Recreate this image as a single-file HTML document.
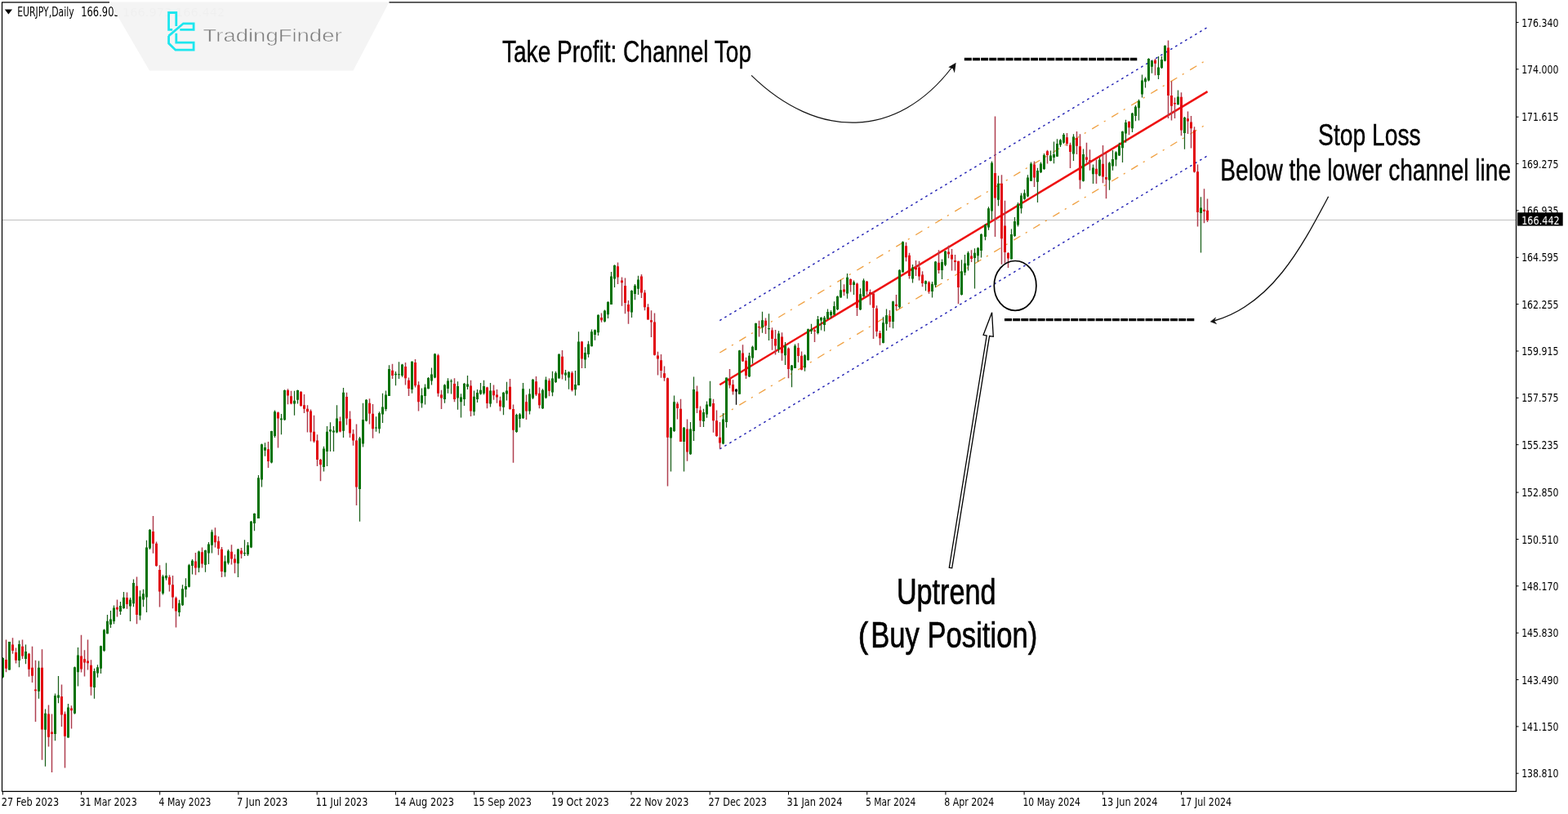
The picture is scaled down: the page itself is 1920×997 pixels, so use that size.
<!DOCTYPE html><html><head><meta charset="utf-8"><title>EURJPY Daily</title><style>html,body{margin:0;padding:0;background:#fff;overflow:hidden}svg{display:block}</style></head><body>
<svg width="1920" height="997" viewBox="0 0 1920 997">
<rect width="1920" height="997" fill="#fff"/>
<line x1="3" y1="269.5" x2="1856" y2="269.5" stroke="#c0c0c0" stroke-width="1"/>
<line x1="881.3" y1="392.6" x2="1478.6" y2="33.4" stroke="#2222b4" stroke-width="1.45" stroke-dasharray="2.7 4.3" stroke-linecap="butt"/>
<line x1="881.3" y1="550.0" x2="1478.6" y2="190.8" stroke="#2222b4" stroke-width="1.45" stroke-dasharray="2.7 4.3" stroke-linecap="butt"/>
<line x1="881.3" y1="432.0" x2="1478.6" y2="72.8" stroke="#f0a040" stroke-width="1.3" stroke-dasharray="9.5 7.5 2.2 8.8" stroke-linecap="butt"/>
<line x1="881.3" y1="510.6" x2="1478.6" y2="151.4" stroke="#f0a040" stroke-width="1.3" stroke-dasharray="9.5 7.5 2.2 8.8" stroke-linecap="butt"/>
<line x1="881.3" y1="471.3" x2="1478.6" y2="112.1" stroke="#ee1111" stroke-width="2.5" stroke-linecap="butt"/>
<path d="M3.5 805.2V830.5M11.5 785.9V820.6M23.5 784.4V817.3M31.5 789.5V813.3M47.5 809.4V855.8M55.5 868.4V938.8M67.5 849.4V907.2M71.5 828.1V861.2M83.5 862.1V903.6M91.5 816.6V874.7M95.5 793.1V840.4M115.5 818.8V855.7M119.5 814.3V829.7M123.5 790.7V824.9M127.5 770.6V798.2M131.5 753.0V776.2M135.5 748.1V769.0M139.5 741.4V764.2M147.5 736.9V753.0M151.5 724.9V745.7M159.5 732.1V761.0M163.5 709.6V743.3M171.5 723.3V759.4M175.5 721.7V743.3M179.5 661.8V750.1M183.5 648.1V673.0M199.5 704.0V728.4M203.5 689.5V710.7M219.5 734.8V754.9M223.5 716.3V742.0M227.5 708.3V731.6M231.5 690.7V719.6M235.5 685.1V703.5M243.5 674.6V701.1M251.5 673.4V700.8M255.5 664.0V690.9M259.5 648.8V677.6M275.5 680.4V706.4M279.5 673.0V691.6M291.5 672.0V707.1M299.5 661.2V681.1M303.5 664.0V681.1M307.5 637.9V671.3M311.5 628.4V650.2M316.5 582.1V635.0M320.5 543.5V596.4M324.5 542.2V558.7M332.5 527.8V567.5M336.5 502.5V535.9M344.5 507.0V532.3M348.5 477.2V515.1M360.5 478.7V508.8M364.5 477.6V494.4M396.5 546.7V577.4M400.5 522.0V571.1M404.5 517.3V553.0M408.5 522.0V553.0M412.5 496.2V530.5M420.5 475.1V535.9M440.5 535.0V638.8M444.5 493.8V547.6M448.5 489.0V516.3M460.5 510.2V528.8M464.5 504.3V530.7M468.5 481.8V517.9M472.5 478.6V503.5M476.5 447.3V485.0M484.5 455.0V472.2M488.5 443.3V464.1M492.5 445.7V461.7M504.5 442.5V481.8M516.5 475.4V499.4M520.5 470.6V495.4M524.5 462.0V476.2M528.5 450.5V471.4M532.5 432.8V463.3M544.5 470.6V493.8M548.5 463.3V481.8M552.5 464.6V482.6M560.5 467.3V501.8M564.5 482.3V511.5M568.5 468.9V497.0M572.5 460.1V477.0M580.5 478.6V509.1M584.5 477.0V493.0M588.5 468.9V483.4M592.5 465.7V483.4M600.5 468.9V498.6M616.5 480.2V508.3M620.5 467.8V490.6M632.5 506.7V529.9M636.5 505.9V523.5M640.5 468.9V513.1M648.5 476.2V507.5M652.5 464.1V489.0M664.5 476.2V501.0M668.5 461.5V488.2M676.5 454.8V485.3M680.5 454.8V469.1M684.5 432.9V463.4M692.5 452.9V466.3M696.5 454.8V476.8M704.5 453.9V484.4M708.5 406.2V472.0M716.5 425.3V451.0M720.5 417.7V437.7M724.5 403.4V424.3M728.5 403.4V416.7M732.5 385.3V411.0M740.5 379.6V394.8M744.5 369.1V390.0M748.5 332.9V372.9M752.5 324.3V351.9M773.5 355.3V389.0M777.5 348.1V367.3M781.5 337.7V360.9M821.5 522.9V577.5M825.5 484.6V528.9M837.5 522.9V577.5M845.5 517.0V557.0M849.5 461.5V540.0M861.5 500.8V522.9M865.5 491.4V511.8M869.5 466.7V498.2M885.5 505.9V544.2M889.5 462.4V523.8M905.5 428.7V482.8M917.5 431.9V461.9M921.5 423.5V445.6M925.5 395.4V428.7M933.5 381.7V407.8M941.5 384.3V416.9M953.5 405.2V431.9M961.5 418.9V446.9M969.5 446.9V474.3M973.5 421.5V450.8M985.5 433.9V454.8M989.5 402.6V441.7M993.5 396.7V409.1M1001.5 386.9V409.4M1005.5 388.3V404.4M1009.5 386.9V405.8M1013.5 378.5V391.1M1017.5 379.9V389.7M1021.5 369.3V386.2M1025.5 362.3V379.9M1029.5 342.7V364.4M1037.5 334.9V365.8M1045.5 343.4V360.9M1053.5 353.2V379.9M1057.5 341.3V363.7M1081.5 388.3V420.6M1085.5 378.5V405.1M1093.5 368.6V402.3M1101.5 330.0V377.8M1105.5 295.6V333.5M1117.5 323.9V346.4M1133.5 343.6V356.2M1141.5 345.0V364.6M1145.5 319.7V352.0M1153.5 317.6V342.1M1157.5 307.0V326.0M1177.5 318.3V361.8M1181.5 312.0V337.2M1185.5 307.7V331.6M1193.5 304.2V353.4M1197.5 302.7V320.6M1201.5 285.9V315.4M1206.5 274.3V294.3M1210.5 253.2V281.7M1214.5 197.4V269.0M1222.5 215.3V252.2M1238.5 280.6V317.5M1242.5 265.9V290.1M1246.5 248.0V277.4M1250.5 236.4V261.6M1254.5 232.2V244.8M1258.5 214.3V241.6M1262.5 198.5V221.6M1270.5 205.8V248.0M1274.5 198.5V212.1M1278.5 187.9V207.9M1286.5 184.5V197.6M1290.5 173.5V200.2M1294.5 170.2V191.7M1298.5 170.2V180.0M1302.5 163.0V176.1M1314.5 164.3V196.9M1326.5 182.6V222.4M1338.5 201.5V225.0M1346.5 193.0V215.8M1358.5 198.2V232.8M1362.5 183.9V208.7M1366.5 185.2V203.5M1370.5 174.8V191.1M1374.5 160.4V198.9M1378.5 146.7V174.8M1386.5 137.9V162.0M1390.5 129.1V148.3M1394.5 121.8V147.5M1398.5 91.4V119.4M1402.5 94.6V107.4M1406.5 71.3V99.4M1410.5 73.7V89.7M1418.5 68.9V97.0M1422.5 68.9V84.1M1426.5 55.2V75.3M1442.5 110.6V128.3M1450.5 143.0V182.7M1470.5 241.2V309.6" stroke="#1a601a" stroke-width="1.25" fill="none"/>
<path d="M7.5 783.5V823.3M15.5 781.2V800.7M19.5 793.5V812.4M27.5 783.5V807.0M35.5 799.8V828.7M39.5 791.7V835.9M43.5 808.8V884.1M51.5 795.3V930.7M59.5 863.5V914.4M63.5 874.4V946.0M75.5 838.6V890.1M79.5 871.5V940.6M87.5 864.2V892.4M99.5 777.8V823.6M103.5 796.3V828.4M107.5 783.5V820.4M111.5 808.3V851.7M143.5 734.5V755.4M155.5 725.4V745.7M167.5 706.4V764.2M187.5 632.1V677.8M191.5 663.4V693.9M195.5 692.3V743.6M207.5 704.3V724.4M211.5 705.1V745.2M215.5 730.8V768.5M239.5 677.0V704.3M247.5 670.6V695.5M263.5 646.3V670.6M267.5 657.0V679.7M271.5 669.9V707.1M283.5 667.3V691.6M287.5 679.0V702.2M295.5 671.0V683.9M328.5 541.0V573.1M340.5 504.3V548.5M352.5 476.3V495.3M356.5 478.7V495.3M368.5 479.0V498.0M372.5 483.0V506.1M376.5 496.2V529.6M380.5 501.6V540.4M384.5 508.8V542.2M388.5 532.3V571.1M392.5 562.1V589.2M416.5 510.6V529.6M424.5 480.8V520.6M428.5 503.4V535.9M432.5 526.0V545.8M436.5 519.6V618.9M452.5 488.2V519.5M456.5 495.1V536.8M480.5 445.7V464.1M496.5 444.1V471.4M500.5 462.5V485.0M508.5 440.1V474.6M512.5 467.3V503.5M536.5 433.6V485.8M540.5 477.8V501.0M556.5 463.3V492.2M576.5 465.7V509.9M596.5 473.8V500.2M604.5 471.4V489.8M608.5 477.0V493.8M612.5 485.8V503.5M624.5 464.1V501.8M628.5 495.4V566.8M644.5 483.4V513.9M656.5 460.9V485.0M660.5 474.6V500.2M672.5 463.4V485.3M688.5 429.1V464.4M700.5 454.8V479.6M712.5 417.7V451.0M736.5 383.4V394.8M756.5 321.4V348.1M761.5 339.5V374.8M765.5 340.5V384.3M769.5 368.1V396.7M785.5 336.0V364.9M789.5 355.3V380.2M793.5 372.2V391.4M797.5 380.2V413.1M801.5 383.4V435.5M805.5 430.7V459.6M809.5 433.9V462.8M813.5 448.4V466.8M817.5 462.4V595.4M829.5 492.2V513.6M833.5 488.8V540.8M841.5 513.6V564.7M853.5 472.6V505.9M857.5 497.4V522.9M873.5 488.8V529.7M877.5 502.5V534.9M881.5 517.0V549.4M893.5 452.1V475.6M897.5 465.2V483.4M909.5 422.2V443.0M913.5 437.8V463.9M929.5 392.8V412.4M937.5 389.6V409.1M945.5 401.3V428.7M949.5 403.9V434.5M957.5 407.2V441.7M965.5 425.4V463.2M977.5 420.2V443.7M981.5 430.6V453.5M997.5 402.6V418.9M1033.5 348.3V362.3M1041.5 341.3V357.4M1049.5 346.2V386.9M1061.5 344.1V360.9M1065.5 354.6V373.6M1069.5 357.4V415.0M1073.5 374.3V412.2M1077.5 405.1V422.7M1089.5 379.9V400.9M1097.5 360.9V379.9M1109.5 296.7V320.2M1113.5 309.8V341.4M1121.5 319.0V337.9M1125.5 319.7V343.6M1129.5 332.3V351.3M1137.5 344.3V359.7M1149.5 306.3V335.1M1161.5 300.7V316.2M1165.5 304.9V331.6M1169.5 312.0V331.6M1173.5 319.7V372.3M1189.5 306.3V321.1M1218.5 142.6V290.1M1226.5 214.3V323.8M1230.5 245.8V322.7M1234.5 309.0V328.0M1266.5 197.4V229.0M1282.5 183.7V200.6M1306.5 163.0V178.7M1310.5 174.8V206.1M1318.5 161.1V189.1M1322.5 164.3V231.5M1330.5 174.8V199.5M1334.5 183.2V208.7M1342.5 195.6V225.0M1350.5 178.0V224.3M1354.5 187.8V243.2M1382.5 148.3V165.2M1414.5 72.1V92.2M1430.5 49.6V145.1M1434.5 99.4V147.5M1438.5 119.4V145.1M1446.5 113.2V166.2M1454.5 136.4V164.0M1458.5 141.9V181.6M1462.5 155.2V211.4M1466.5 201.5V277.6M1474.5 231.3V273.2M1478.5 243.4V272.1" stroke="#b04050" stroke-width="1.5" fill="none"/>
<path d="M901.5 476.3V495.8" stroke="#000" stroke-width="1.25" fill="none"/>
<path d="M2 806.1h3v23.5h-3zM10 785.9h3v34.7h-3zM22 789.0h3v19.9h-3zM30 798.0h3v9.0h-3zM46 817.8h3v28.9h-3zM54 873.8h3v19.9h-3zM66 852.1h3v46.9h-3zM70 851.6h3v3.2h-3zM82 866.6h3v37.0h-3zM90 817.3h3v56.5h-3zM94 802.5h3v20.8h-3zM114 822.0h3v20.1h-3zM118 817.2h3v7.2h-3zM122 791.2h3v27.6h-3zM126 771.4h3v25.7h-3zM130 760.7h3v15.6h-3zM134 758.6h3v6.4h-3zM138 744.6h3v16.4h-3zM146 742.0h3v6.9h-3zM150 731.8h3v13.2h-3zM158 734.5h3v8.0h-3zM162 714.1h3v25.2h-3zM170 730.5h3v23.3h-3zM174 727.3h3v7.2h-3zM178 670.6h3v61.0h-3zM182 648.9h3v22.5h-3zM198 705.9h3v20.9h-3zM202 705.1h3v3.2h-3zM218 738.8h3v11.2h-3zM222 721.2h3v20.1h-3zM226 718.0h3v4.0h-3zM230 692.3h3v26.5h-3zM234 686.7h3v6.4h-3zM242 675.4h3v20.1h-3zM250 674.1h3v17.6h-3zM254 666.4h3v11.2h-3zM258 651.6h3v16.1h-3zM274 687.4h3v13.3h-3zM278 674.8h3v14.7h-3zM290 672.7h3v17.6h-3zM298 676.9h3v1.4h-3zM302 667.8h3v11.2h-3zM306 638.7h3v31.9h-3zM310 629.1h3v11.9h-3zM315 585.3h3v49.7h-3zM319 544.3h3v43.3h-3zM323 547.9h3v3.9h-3zM331 528.1h3v38.5h-3zM335 504.3h3v29.8h-3zM343 512.4h3v1.8h-3zM347 478.1h3v36.1h-3zM359 490.8h3v3.6h-3zM363 478.1h3v11.7h-3zM395 549.4h3v22.6h-3zM399 528.7h3v24.4h-3zM403 526.3h3v2.3h-3zM407 527.4h3v2.2h-3zM411 512.4h3v17.2h-3zM419 480.8h3v46.9h-3zM439 536.8h3v62.3h-3zM443 513.9h3v29.7h-3zM447 489.8h3v25.7h-3zM459 523.5h3v1.1h-3zM463 505.9h3v19.3h-3zM467 498.6h3v8.8h-3zM471 483.4h3v17.7h-3zM475 452.1h3v32.9h-3zM483 457.7h3v1.6h-3zM487 458.2h3v1.1h-3zM491 446.5h3v13.6h-3zM503 442.8h3v34.2h-3zM515 484.2h3v9.6h-3zM519 474.6h3v10.4h-3zM523 463.0h3v13.2h-3zM527 458.5h3v8.0h-3zM531 433.6h3v28.9h-3zM543 471.4h3v17.7h-3zM547 466.5h3v9.6h-3zM551 466.5h3v1.0h-3zM559 473.0h3v14.4h-3zM563 486.6h3v5.6h-3zM567 470.1h3v18.9h-3zM571 470.6h3v3.2h-3zM579 485.8h3v18.5h-3zM583 481.0h3v8.0h-3zM587 477.8h3v4.8h-3zM591 473.0h3v8.8h-3zM599 478.6h3v16.0h-3zM615 480.7h3v18.0h-3zM619 478.6h3v4.0h-3zM631 507.9h3v21.2h-3zM635 507.5h3v5.6h-3zM639 476.2h3v36.1h-3zM647 482.6h3v20.9h-3zM651 464.9h3v22.5h-3zM663 477.8h3v22.5h-3zM667 465.3h3v21.9h-3zM675 463.4h3v17.2h-3zM679 456.7h3v11.4h-3zM683 433.9h3v29.5h-3zM691 456.4h3v3.2h-3zM695 455.8h3v6.7h-3zM703 471.0h3v6.3h-3zM707 418.6h3v53.4h-3zM715 432.0h3v8.6h-3zM719 421.5h3v12.4h-3zM723 406.2h3v18.1h-3zM727 404.3h3v5.7h-3zM731 385.7h3v21.5h-3zM739 380.5h3v13.3h-3zM743 370.0h3v15.2h-3zM747 338.6h3v34.3h-3zM751 324.9h3v16.6h-3zM772 356.1h3v26.5h-3zM776 349.7h3v10.4h-3zM780 342.5h3v11.2h-3zM820 523.8h3v12.8h-3zM824 492.2h3v35.8h-3zM836 523.8h3v17.1h-3zM844 525.5h3v30.7h-3zM848 476.9h3v51.2h-3zM860 505.0h3v11.1h-3zM864 495.6h3v11.9h-3zM868 488.0h3v9.4h-3zM884 513.6h3v29.8h-3zM888 462.4h3v54.6h-3zM904 429.3h3v53.5h-3zM916 435.8h3v25.4h-3zM920 424.8h3v13.7h-3zM924 396.1h3v32.6h-3zM932 392.2h3v9.1h-3zM940 401.9h3v1.3h-3zM952 408.5h3v19.6h-3zM960 423.5h3v11.7h-3zM968 447.6h3v5.9h-3zM972 423.5h3v27.4h-3zM984 435.2h3v15.0h-3zM988 403.2h3v37.8h-3zM992 403.2h3v2.6h-3zM1000 391.1h3v16.9h-3zM1004 389.0h3v3.5h-3zM1008 389.0h3v9.1h-3zM1012 382.0h3v9.1h-3zM1016 382.0h3v4.2h-3zM1020 375.0h3v10.5h-3zM1024 363.0h3v16.1h-3zM1028 355.3h3v9.1h-3zM1036 339.8h3v19.7h-3zM1044 345.5h3v3.5h-3zM1052 360.2h3v19.0h-3zM1056 343.4h3v19.7h-3zM1080 395.3h3v24.6h-3zM1084 386.2h3v10.5h-3zM1092 369.3h3v24.6h-3zM1100 330.7h3v45.6h-3zM1104 296.3h3v37.2h-3zM1116 327.4h3v14.0h-3zM1132 344.3h3v3.5h-3zM1140 347.8h3v9.1h-3zM1144 320.4h3v28.8h-3zM1152 321.1h3v9.8h-3zM1156 307.7h3v16.9h-3zM1176 332.3h3v28.8h-3zM1180 322.5h3v11.2h-3zM1184 309.8h3v15.4h-3zM1192 309.8h3v6.3h-3zM1196 303.8h3v9.5h-3zM1200 286.9h3v20.0h-3zM1205 275.3h3v14.7h-3zM1209 255.3h3v23.2h-3zM1213 199.5h3v59.0h-3zM1221 224.8h3v20.0h-3zM1237 286.9h3v30.5h-3zM1241 271.1h3v17.9h-3zM1245 250.1h3v25.3h-3zM1249 239.5h3v15.8h-3zM1253 236.4h3v7.4h-3zM1257 217.4h3v23.2h-3zM1261 200.6h3v21.1h-3zM1269 209.0h3v13.7h-3zM1273 200.6h3v10.5h-3zM1277 190.0h3v16.9h-3zM1285 190.4h3v6.5h-3zM1289 189.1h3v3.9h-3zM1293 176.1h3v15.6h-3zM1297 171.5h3v5.9h-3zM1301 165.0h3v9.8h-3zM1313 167.6h3v20.9h-3zM1325 189.1h3v32.6h-3zM1337 205.4h3v7.8h-3zM1345 195.6h3v19.6h-3zM1357 199.5h3v20.9h-3zM1361 195.0h3v8.5h-3zM1365 186.5h3v9.1h-3zM1369 178.7h3v11.7h-3zM1373 161.1h3v20.2h-3zM1377 149.9h3v13.6h-3zM1385 138.7h3v18.5h-3zM1389 130.7h3v11.2h-3zM1393 123.5h3v8.8h-3zM1397 98.6h3v16.9h-3zM1401 96.2h3v4.0h-3zM1405 72.1h3v26.5h-3zM1409 74.5h3v7.2h-3zM1417 82.5h3v9.6h-3zM1421 72.9h3v10.4h-3zM1425 56.0h3v18.5h-3zM1441 118.6h3v9.6h-3zM1449 144.1h3v18.8h-3zM1469 254.5h3v6.6h-3z" fill="#047204"/>
<path d="M6 807.9h3v10.8h-3zM14 789.5h3v7.6h-3zM18 798.9h3v9.9h-3zM26 791.7h3v11.7h-3zM34 800.7h3v19.0h-3zM38 817.8h3v9.9h-3zM42 844.4h3v1.8h-3zM50 817.8h3v75.8h-3zM58 874.4h3v28.3h-3zM62 896.4h3v2.7h-3zM74 853.0h3v22.6h-3zM78 874.4h3v27.4h-3zM86 867.5h3v2.7h-3zM98 803.5h3v16.0h-3zM102 807.2h3v4.3h-3zM106 809.6h3v2.7h-3zM110 814.7h3v26.5h-3zM142 743.7h3v2.9h-3zM154 732.1h3v8.0h-3zM166 717.7h3v35.3h-3zM186 651.0h3v14.8h-3zM190 665.8h3v27.3h-3zM194 697.9h3v26.5h-3zM206 706.7h3v9.6h-3zM210 716.3h3v15.2h-3zM214 732.4h3v16.0h-3zM238 687.5h3v8.0h-3zM246 676.2h3v14.4h-3zM262 655.8h3v8.4h-3zM266 662.8h3v9.1h-3zM270 672.7h3v27.4h-3zM282 675.8h3v8.8h-3zM286 684.6h3v4.9h-3zM294 674.4h3v4.2h-3zM327 550.2h3v14.9h-3zM339 505.2h3v7.2h-3zM351 478.1h3v6.3h-3zM355 485.3h3v9.0h-3zM367 479.9h3v17.2h-3zM371 496.2h3v4.5h-3zM375 500.7h3v3.6h-3zM379 503.4h3v26.2h-3zM383 528.7h3v11.7h-3zM387 539.5h3v23.5h-3zM391 563.0h3v6.3h-3zM415 516.0h3v12.6h-3zM423 485.9h3v26.5h-3zM427 513.3h3v17.2h-3zM431 531.4h3v8.1h-3zM435 539.5h3v56.9h-3zM451 493.8h3v12.8h-3zM455 506.7h3v18.5h-3zM479 453.7h3v6.4h-3zM495 448.9h3v14.4h-3zM499 465.7h3v10.4h-3zM507 444.1h3v28.1h-3zM511 471.4h3v20.9h-3zM535 435.2h3v46.5h-3zM539 483.4h3v4.0h-3zM555 470.1h3v18.9h-3zM575 472.6h3v30.8h-3zM595 474.6h3v19.3h-3zM603 478.6h3v5.6h-3zM607 483.4h3v3.2h-3zM611 490.6h3v7.2h-3zM623 473.8h3v27.3h-3zM627 501.0h3v25.7h-3zM643 492.2h3v11.2h-3zM655 467.3h3v16.0h-3zM659 481.8h3v14.4h-3zM671 466.3h3v12.4h-3zM687 436.7h3v21.9h-3zM699 456.7h3v21.0h-3zM711 418.6h3v21.0h-3zM735 389.1h3v3.2h-3zM755 326.2h3v13.3h-3zM760 343.4h3v2.9h-3zM764 350.0h3v21.0h-3zM768 372.9h3v8.6h-3zM784 338.5h3v20.1h-3zM788 358.5h3v17.7h-3zM792 376.2h3v15.2h-3zM796 392.2h3v2.4h-3zM800 394.6h3v40.1h-3zM804 435.5h3v4.0h-3zM808 441.2h3v12.8h-3zM812 457.2h3v5.6h-3zM816 463.2h3v72.5h-3zM828 494.5h3v5.5h-3zM832 500.8h3v40.1h-3zM840 525.5h3v28.1h-3zM852 479.4h3v20.5h-3zM856 502.5h3v12.8h-3zM872 493.9h3v21.3h-3zM876 515.3h3v18.8h-3zM880 535.7h3v6.8h-3zM892 463.9h3v7.8h-3zM896 471.1h3v8.5h-3zM908 432.6h3v9.8h-3zM912 441.7h3v18.3h-3zM928 400.0h3v1.3h-3zM936 392.8h3v5.9h-3zM944 404.6h3v10.4h-3zM948 415.0h3v8.5h-3zM956 412.4h3v20.2h-3zM964 426.7h3v25.4h-3zM976 426.1h3v9.8h-3zM980 435.8h3v17.0h-3zM996 404.6h3v1.3h-3zM1032 354.6h3v2.8h-3zM1040 342.0h3v7.0h-3zM1048 347.6h3v29.5h-3zM1060 344.8h3v11.9h-3zM1064 358.1h3v2.1h-3zM1068 359.5h3v17.6h-3zM1072 377.8h3v28.1h-3zM1076 408.0h3v6.3h-3zM1088 386.9h3v7.0h-3zM1096 372.8h3v2.1h-3zM1108 301.2h3v14.0h-3zM1112 312.7h3v25.3h-3zM1120 327.4h3v2.8h-3zM1124 327.4h3v11.2h-3zM1128 336.5h3v10.5h-3zM1136 345.7h3v11.2h-3zM1148 321.8h3v9.1h-3zM1160 308.4h3v2.8h-3zM1164 312.0h3v5.6h-3zM1168 319.0h3v2.1h-3zM1172 319.7h3v32.3h-3zM1188 313.4h3v3.5h-3zM1217 212.1h3v30.5h-3zM1225 224.8h3v67.4h-3zM1229 276.4h3v32.6h-3zM1233 310.1h3v6.3h-3zM1265 201.6h3v15.8h-3zM1281 185.2h3v4.8h-3zM1305 168.2h3v7.8h-3zM1309 177.4h3v8.5h-3zM1317 168.9h3v9.8h-3zM1321 179.3h3v41.1h-3zM1329 192.4h3v3.3h-3zM1333 196.3h3v2.0h-3zM1341 206.7h3v6.5h-3zM1349 200.8h3v15.6h-3zM1353 217.1h3v2.6h-3zM1381 149.1h3v7.2h-3zM1413 73.7h3v4.0h-3zM1429 58.5h3v58.6h-3zM1433 117.0h3v12.8h-3zM1437 125.9h3v1.6h-3zM1445 118.8h3v40.8h-3zM1453 145.2h3v3.3h-3zM1457 149.6h3v7.7h-3zM1461 159.6h3v50.8h-3zM1465 210.3h3v49.6h-3zM1473 256.7h3v2.2h-3zM1477 257.8h3v12.1h-3z" fill="#e2060e"/>
<path d="M900 476.7h3v2.9h-3z" fill="#000"/>
<line x1="1180.8" y1="72.5" x2="1392.3" y2="72.5" stroke="#000" stroke-width="3.4" stroke-dasharray="9 1.15"/>
<line x1="1230" y1="391.6" x2="1462.8" y2="391.6" stroke="#000" stroke-width="3.2" stroke-dasharray="9 1.15"/>
<path d="M920.1 92.4C1001 171.4 1098.4 170.8 1166 82" fill="none" stroke="#111" stroke-width="1.2"/>
<path d="M1170.6 76.8L1168.9 89.6L1166.6 83.9L1161.3 82.3Z" fill="#111"/>
<path d="M1626.6 240.8C1593.6 303.1 1557.3 372.8 1486.5 393" fill="none" stroke="#111" stroke-width="1.3"/>
<path d="M1482.2 394L1488.6 388.9L1486.8 393.1L1489.6 396.7Z" fill="#111" stroke="#111" stroke-width="0.5" stroke-linejoin="round"/>
<ellipse cx="1243.1" cy="349.9" rx="25.8" ry="30.4" fill="none" stroke="#000" stroke-width="1.7"/>
<path d="M1214.6 382.8L1216.3 412.3L1211.6 411.6L1165.7 695.8L1162.3 695.2L1208.2 411L1204.1 410.3Z" fill="#fff" stroke="#000" stroke-width="1.3" stroke-linejoin="miter"/>
<text stroke="#000" stroke-width="0.45" x="615.0" y="75.9" font-family="Liberation Sans, Arial, sans-serif" font-size="36" textLength="305.03" lengthAdjust="spacingAndGlyphs" fill="#000">Take Profit: Channel Top</text>
<text stroke="#000" stroke-width="0.45" x="1614.07" y="177.8" font-family="Liberation Sans, Arial, sans-serif" font-size="36" textLength="125.6" lengthAdjust="spacingAndGlyphs" fill="#000">Stop Loss</text>
<text stroke="#000" stroke-width="0.45" x="1494.34" y="220.8" font-family="Liberation Sans, Arial, sans-serif" font-size="36" textLength="355.66" lengthAdjust="spacingAndGlyphs" fill="#000">Below the lower channel line</text>
<text stroke="#000" stroke-width="0.7" x="1097.9" y="739.5" font-family="Liberation Sans, Arial, sans-serif" font-size="44.5" textLength="121.59" lengthAdjust="spacingAndGlyphs" fill="#000">Uptrend</text>
<text stroke="#000" stroke-width="0.7" x="1050.71" y="792.9" font-family="Liberation Sans, Arial, sans-serif" font-size="44.5" textLength="12.55" lengthAdjust="spacingAndGlyphs" fill="#000">(</text>
<text stroke="#000" stroke-width="0.7" x="1066.27" y="792.9" font-family="Liberation Sans, Arial, sans-serif" font-size="44.5" textLength="203.93" lengthAdjust="spacingAndGlyphs" fill="#000">Buy Position)</text>
<path d="M5.8 11.5H15L10.4 17.6Z" fill="#000"/>
<text x="21.17" y="19.8" font-family="DejaVu Sans, Liberation Sans, sans-serif" font-size="15.0" textLength="69.56" lengthAdjust="spacingAndGlyphs" fill="#000">EURJPY,Daily</text>
<text x="99.23" y="19.8" font-family="DejaVu Sans, Liberation Sans, sans-serif" font-size="15.0" textLength="47.56" lengthAdjust="spacingAndGlyphs" fill="#000">166.905</text>
<path d="M134 2.5H476.5L432.5 86.5H183Z" fill="#f4f4f4"/>
<text x="150" y="19.8" font-family="DejaVu Sans, sans-serif" font-size="14.6" fill="#000" fill-opacity="0.018">166.973 166.442</text>
<g fill="none" stroke="#1de6ee" stroke-width="2.8" stroke-linejoin="miter"><path d="M215.8 32.1V15.5H206.6V36.3H211.2"/><path d="M206.4 44.1L224.5 28.8H237.1V36.3H220.3"/><path d="M215.8 40.8V52.2H237.1V61.2H214.9L206.6 53.1V44.1"/></g>
<text stroke="#f4f4f4" stroke-width="0.5" x="248.5" y="50.6" font-family="Liberation Sans, Arial, sans-serif" font-size="22.5" textLength="170.09" lengthAdjust="spacingAndGlyphs" fill="#7e7e7e">TradingFinder</text>
<path d="M2.5 969.4V2.9H134M476.5 2.9H1856.5V969.4H2.5" fill="none" stroke="#000" stroke-width="1.2"/>
<line x1="1856.5" y1="27.4" x2="1859.5" y2="27.4" stroke="#000" stroke-width="1"/>
<text x="1863.14" y="32.5" font-family="DejaVu Sans, Liberation Sans, sans-serif" font-size="14.4" textLength="45.36" lengthAdjust="spacingAndGlyphs" fill="#000">176.340</text>
<line x1="1856.5" y1="84.8" x2="1859.5" y2="84.8" stroke="#000" stroke-width="1"/>
<text x="1863.14" y="89.85" font-family="DejaVu Sans, Liberation Sans, sans-serif" font-size="14.4" textLength="45.36" lengthAdjust="spacingAndGlyphs" fill="#000">174.000</text>
<line x1="1856.5" y1="143.2" x2="1859.5" y2="143.2" stroke="#000" stroke-width="1"/>
<text x="1863.14" y="148.3" font-family="DejaVu Sans, Liberation Sans, sans-serif" font-size="14.4" textLength="45.36" lengthAdjust="spacingAndGlyphs" fill="#000">171.615</text>
<line x1="1856.5" y1="200.6" x2="1859.5" y2="200.6" stroke="#000" stroke-width="1"/>
<text x="1863.14" y="205.65" font-family="DejaVu Sans, Liberation Sans, sans-serif" font-size="14.4" textLength="45.36" lengthAdjust="spacingAndGlyphs" fill="#000">169.275</text>
<line x1="1856.5" y1="257.9" x2="1859.5" y2="257.9" stroke="#000" stroke-width="1"/>
<text x="1863.14" y="263.0" font-family="DejaVu Sans, Liberation Sans, sans-serif" font-size="14.4" textLength="45.36" lengthAdjust="spacingAndGlyphs" fill="#000">166.935</text>
<line x1="1856.5" y1="315.3" x2="1859.5" y2="315.3" stroke="#000" stroke-width="1"/>
<text x="1863.14" y="320.35" font-family="DejaVu Sans, Liberation Sans, sans-serif" font-size="14.4" textLength="45.36" lengthAdjust="spacingAndGlyphs" fill="#000">164.595</text>
<line x1="1856.5" y1="372.6" x2="1859.5" y2="372.6" stroke="#000" stroke-width="1"/>
<text x="1863.14" y="377.7" font-family="DejaVu Sans, Liberation Sans, sans-serif" font-size="14.4" textLength="45.36" lengthAdjust="spacingAndGlyphs" fill="#000">162.255</text>
<line x1="1856.5" y1="430.0" x2="1859.5" y2="430.0" stroke="#000" stroke-width="1"/>
<text x="1863.14" y="435.05" font-family="DejaVu Sans, Liberation Sans, sans-serif" font-size="14.4" textLength="45.36" lengthAdjust="spacingAndGlyphs" fill="#000">159.915</text>
<line x1="1856.5" y1="487.3" x2="1859.5" y2="487.3" stroke="#000" stroke-width="1"/>
<text x="1863.14" y="492.4" font-family="DejaVu Sans, Liberation Sans, sans-serif" font-size="14.4" textLength="45.36" lengthAdjust="spacingAndGlyphs" fill="#000">157.575</text>
<line x1="1856.5" y1="544.7" x2="1859.5" y2="544.7" stroke="#000" stroke-width="1"/>
<text x="1863.14" y="549.75" font-family="DejaVu Sans, Liberation Sans, sans-serif" font-size="14.4" textLength="45.36" lengthAdjust="spacingAndGlyphs" fill="#000">155.235</text>
<line x1="1856.5" y1="603.1" x2="1859.5" y2="603.1" stroke="#000" stroke-width="1"/>
<text x="1863.14" y="608.21" font-family="DejaVu Sans, Liberation Sans, sans-serif" font-size="14.4" textLength="45.36" lengthAdjust="spacingAndGlyphs" fill="#000">152.850</text>
<line x1="1856.5" y1="660.5" x2="1859.5" y2="660.5" stroke="#000" stroke-width="1"/>
<text x="1863.14" y="665.56" font-family="DejaVu Sans, Liberation Sans, sans-serif" font-size="14.4" textLength="45.36" lengthAdjust="spacingAndGlyphs" fill="#000">150.510</text>
<line x1="1856.5" y1="717.8" x2="1859.5" y2="717.8" stroke="#000" stroke-width="1"/>
<text x="1863.14" y="722.91" font-family="DejaVu Sans, Liberation Sans, sans-serif" font-size="14.4" textLength="45.36" lengthAdjust="spacingAndGlyphs" fill="#000">148.170</text>
<line x1="1856.5" y1="775.2" x2="1859.5" y2="775.2" stroke="#000" stroke-width="1"/>
<text x="1863.14" y="780.26" font-family="DejaVu Sans, Liberation Sans, sans-serif" font-size="14.4" textLength="45.36" lengthAdjust="spacingAndGlyphs" fill="#000">145.830</text>
<line x1="1856.5" y1="832.5" x2="1859.5" y2="832.5" stroke="#000" stroke-width="1"/>
<text x="1863.14" y="837.61" font-family="DejaVu Sans, Liberation Sans, sans-serif" font-size="14.4" textLength="45.36" lengthAdjust="spacingAndGlyphs" fill="#000">143.490</text>
<line x1="1856.5" y1="889.9" x2="1859.5" y2="889.9" stroke="#000" stroke-width="1"/>
<text x="1863.14" y="894.96" font-family="DejaVu Sans, Liberation Sans, sans-serif" font-size="14.4" textLength="45.36" lengthAdjust="spacingAndGlyphs" fill="#000">141.150</text>
<line x1="1856.5" y1="947.2" x2="1859.5" y2="947.2" stroke="#000" stroke-width="1"/>
<text x="1863.14" y="952.31" font-family="DejaVu Sans, Liberation Sans, sans-serif" font-size="14.4" textLength="45.36" lengthAdjust="spacingAndGlyphs" fill="#000">138.810</text>
<rect x="1858" y="260.3" width="55.7" height="16.3" fill="#000"/>
<text x="1863.22" y="274.6" font-family="DejaVu Sans, Liberation Sans, sans-serif" font-size="14.4" textLength="46.46" lengthAdjust="spacingAndGlyphs" fill="#fff">166.442</text>
<line x1="3.3" y1="969" x2="3.3" y2="973.5" stroke="#000" stroke-width="1"/>
<text x="1.71" y="987.3" font-family="DejaVu Sans, Liberation Sans, sans-serif" font-size="14.4" textLength="70.48" lengthAdjust="spacingAndGlyphs" fill="#000">27 Feb 2023</text>
<line x1="99.5" y1="969" x2="99.5" y2="973.5" stroke="#000" stroke-width="1"/>
<text x="97.48" y="987.3" font-family="DejaVu Sans, Liberation Sans, sans-serif" font-size="14.4" textLength="70.23" lengthAdjust="spacingAndGlyphs" fill="#000">31 Mar 2023</text>
<line x1="195.7" y1="969" x2="195.7" y2="973.5" stroke="#000" stroke-width="1"/>
<text x="194.5" y="987.3" font-family="DejaVu Sans, Liberation Sans, sans-serif" font-size="14.4" textLength="64.02" lengthAdjust="spacingAndGlyphs" fill="#000">4 May 2023</text>
<line x1="291.9" y1="969" x2="291.9" y2="973.5" stroke="#000" stroke-width="1"/>
<text x="289.94" y="987.3" font-family="DejaVu Sans, Liberation Sans, sans-serif" font-size="14.4" textLength="62.4" lengthAdjust="spacingAndGlyphs" fill="#000">7 Jun 2023</text>
<line x1="388.2" y1="969" x2="388.2" y2="973.5" stroke="#000" stroke-width="1"/>
<text x="386.72" y="987.3" font-family="DejaVu Sans, Liberation Sans, sans-serif" font-size="14.4" textLength="63.64" lengthAdjust="spacingAndGlyphs" fill="#000">11 Jul 2023</text>
<line x1="484.4" y1="969" x2="484.4" y2="973.5" stroke="#000" stroke-width="1"/>
<text x="482.96" y="987.3" font-family="DejaVu Sans, Liberation Sans, sans-serif" font-size="14.4" textLength="72.98" lengthAdjust="spacingAndGlyphs" fill="#000">14 Aug 2023</text>
<line x1="580.6" y1="969" x2="580.6" y2="973.5" stroke="#000" stroke-width="1"/>
<text x="579.21" y="987.3" font-family="DejaVu Sans, Liberation Sans, sans-serif" font-size="14.4" textLength="71.75" lengthAdjust="spacingAndGlyphs" fill="#000">15 Sep 2023</text>
<line x1="676.8" y1="969" x2="676.8" y2="973.5" stroke="#000" stroke-width="1"/>
<text x="675.46" y="987.3" font-family="DejaVu Sans, Liberation Sans, sans-serif" font-size="14.4" textLength="70.31" lengthAdjust="spacingAndGlyphs" fill="#000">19 Oct 2023</text>
<line x1="773.0" y1="969" x2="773.0" y2="973.5" stroke="#000" stroke-width="1"/>
<text x="771.22" y="987.3" font-family="DejaVu Sans, Liberation Sans, sans-serif" font-size="14.4" textLength="72.2" lengthAdjust="spacingAndGlyphs" fill="#000">22 Nov 2023</text>
<line x1="869.2" y1="969" x2="869.2" y2="973.5" stroke="#000" stroke-width="1"/>
<text x="867.47" y="987.3" font-family="DejaVu Sans, Liberation Sans, sans-serif" font-size="14.4" textLength="71.51" lengthAdjust="spacingAndGlyphs" fill="#000">27 Dec 2023</text>
<line x1="965.5" y1="969" x2="965.5" y2="973.5" stroke="#000" stroke-width="1"/>
<text x="963.46" y="987.3" font-family="DejaVu Sans, Liberation Sans, sans-serif" font-size="14.4" textLength="68.01" lengthAdjust="spacingAndGlyphs" fill="#000">31 Jan 2024</text>
<line x1="1061.7" y1="969" x2="1061.7" y2="973.5" stroke="#000" stroke-width="1"/>
<text x="1060.0" y="987.3" font-family="DejaVu Sans, Liberation Sans, sans-serif" font-size="14.4" textLength="61.32" lengthAdjust="spacingAndGlyphs" fill="#000">5 Mar 2024</text>
<line x1="1157.9" y1="969" x2="1157.9" y2="973.5" stroke="#000" stroke-width="1"/>
<text x="1156.23" y="987.3" font-family="DejaVu Sans, Liberation Sans, sans-serif" font-size="14.4" textLength="61.13" lengthAdjust="spacingAndGlyphs" fill="#000">8 Apr 2024</text>
<line x1="1254.1" y1="969" x2="1254.1" y2="973.5" stroke="#000" stroke-width="1"/>
<text x="1252.5" y="987.3" font-family="DejaVu Sans, Liberation Sans, sans-serif" font-size="14.4" textLength="70.38" lengthAdjust="spacingAndGlyphs" fill="#000">10 May 2024</text>
<line x1="1350.3" y1="969" x2="1350.3" y2="973.5" stroke="#000" stroke-width="1"/>
<text x="1348.71" y="987.3" font-family="DejaVu Sans, Liberation Sans, sans-serif" font-size="14.4" textLength="68.75" lengthAdjust="spacingAndGlyphs" fill="#000">13 Jun 2024</text>
<line x1="1446.5" y1="969" x2="1446.5" y2="973.5" stroke="#000" stroke-width="1"/>
<text x="1445.23" y="987.3" font-family="DejaVu Sans, Liberation Sans, sans-serif" font-size="14.4" textLength="62.92" lengthAdjust="spacingAndGlyphs" fill="#000">17 Jul 2024</text>
</svg></body></html>
